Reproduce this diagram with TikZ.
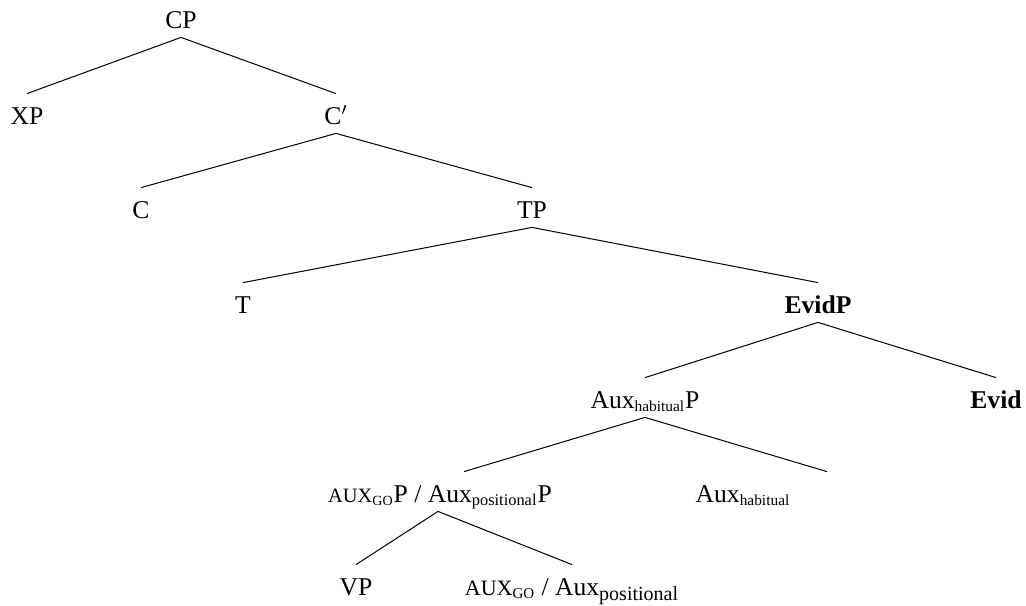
\documentclass[tikz,border=0pt]{standalone}
\usepackage{fontspec}
\setmainfont{Liberation Serif}
\usetikzlibrary{calc}

\newcommand{\lsub}[1]{\textsubscript{\fontsize{7.7}{9}\selectfont #1}}
\newcommand{\lsc}[1]{{\fontsize{10.2}{11}\selectfont #1}}
\newcommand{\lsubsc}[1]{\textsubscript{\fontsize{7}{8}\selectfont #1}}

\begin{document}
\begin{tikzpicture}[%
x=.5pt, y=-.5pt,
cat/.style={anchor=base, inner xsep=0pt, inner ysep=4.5pt, text height=10.5pt, text depth=0pt, font=\fontsize{12.8}{15}\selectfont},
head/.style={cat, font=\fontsize{12.8}{15}\selectfont\bfseries},
branch/.style={line width=.5pt},
]

\useasboundingbox (0,0) rectangle (1026,605);

% baselines of the levels
\pgfmathsetmacro{\szinta}{28}
\pgfmathsetmacro{\szintb}{124}
\pgfmathsetmacro{\szintc}{218}
\pgfmathsetmacro{\szintd}{313}
\pgfmathsetmacro{\szinte}{408}
\pgfmathsetmacro{\szintf}{502}
\pgfmathsetmacro{\szintg}{595}

\node[cat](cp)  at (181,\szinta){CP};

\node[cat](xp)  at (27,\szintb){XP};
\node[cat](cbar) at (336,\szintb){C$'$};
\draw[branch] (cp.south)--(xp.north);
\draw[branch] (cp.south)--(cbar.north);

\node[cat](c)  at (141,\szintc){C};
\node[cat](tp) at (532,\szintc){TP};
\draw[branch] (cbar.south)--(c.north);
\draw[branch] (cbar.south)--(tp.north);

\node[cat](t)      at (243,\szintd){T};
\node[head](evidp) at (818,\szintd){EvidP};
\draw[branch] (tp.south)--(t.north);
\draw[branch] (tp.south)--(evidp.north);

\node[cat](auxhabp) at (645,\szinte){Aux\lsub{habitual}P};
\node[head](evid)   at (996,\szinte){Evid};
\draw[branch] (evidp.south)--(auxhabp.north);
\draw[branch] (evidp.south)--(evid.north);

\node[cat](auxgop) at (440,\szintf){\lsc{AUX}\lsubsc{GO}P / Aux\textsubscript{\fontsize{8.2}{9}\selectfont positional}P};
\node[cat](auxhab) at (743,\szintf){Aux\lsub{habitual}};
\coordinate (auxgoptop)  at ([xshift=12pt]auxgop.north);
\coordinate (auxhabtop)  at ([xshift=42pt]auxhab.north);
\draw[branch] (auxhabp.south)--(auxgoptop);
\draw[branch] (auxhabp.south)--(auxhabtop);

\node[cat](vp)    at (356,\szintg){VP};
\node[cat](auxgo) at (572,\szintg){{\fontsize{11}{12}\selectfont AUX}\textsubscript{\fontsize{7.5}{9}\selectfont GO} / Aux\textsubscript{\fontsize{10}{11}\selectfont positional}};
\draw[branch] ([xshift=-1pt]auxgop.south)--(vp.north);
\draw[branch] ([xshift=-1pt]auxgop.south)--(auxgo.north);

\end{tikzpicture}
\end{document}
